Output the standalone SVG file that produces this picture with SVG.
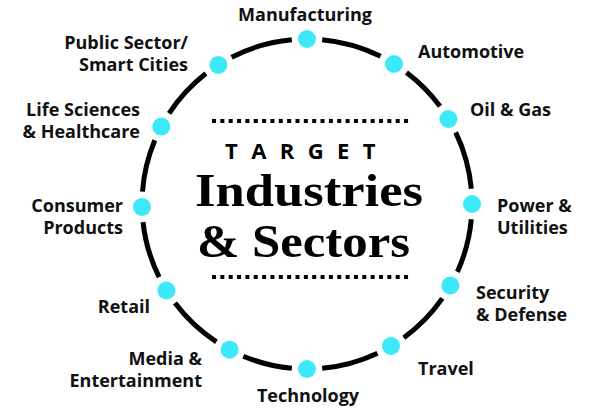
<svg xmlns="http://www.w3.org/2000/svg" width="595" height="408" viewBox="0 0 595 408">
<style>
.lbl{font-family:"Open Sans","Liberation Sans",sans-serif;font-weight:700;font-size:18px;fill:#111}
.r{text-anchor:end}
.m{text-anchor:middle}
.dot{fill:#3DE9F9}
.arc{fill:none;stroke:#000;stroke-width:5}
.dl{stroke:#000;stroke-width:4;stroke-dasharray:4 4.35}
.ser{font-family:"Liberation Serif","DejaVu Serif",serif;font-weight:700;font-size:46px;fill:#000}
</style>
<rect width="595" height="408" fill="#fff"/>
<g id="connectors">
<path class="arc" d="M322.2 39.7 A165 165 0 0 1 380.6 56.3"/>
<path class="arc" d="M406.5 72.4 A165 165 0 0 1 440.0 106.3"/>
<path class="arc" d="M455.7 132.4 A165 165 0 0 1 471.3 188.8"/>
<path class="arc" d="M471.3 219.2 A165 165 0 0 1 457.4 271.9"/>
<path class="arc" d="M442.3 298.4 A165 165 0 0 1 403.8 337.7"/>
<path class="arc" d="M377.5 353.2 A165 165 0 0 1 322.2 368.3"/>
<path class="arc" d="M291.8 368.3 A165 165 0 0 1 243.3 356.2"/>
<path class="arc" d="M216.4 341.9 A165 165 0 0 1 175.0 303.1"/>
<path class="arc" d="M159.1 277.1 A165 165 0 0 1 143.0 222.1"/>
<path class="arc" d="M142.5 191.6 A165 165 0 0 1 154.8 140.3"/>
<path class="arc" d="M169.1 113.4 A165 165 0 0 1 205.9 73.6"/>
<path class="arc" d="M231.6 57.2 A165 165 0 0 1 291.8 39.7"/>
</g>
<g id="title">
<line class="dl" x1="212" y1="121" x2="409" y2="121"/>
<text x="225" y="159" style="font-family:'Open Sans','Liberation Sans',sans-serif;font-weight:700;font-size:22px;letter-spacing:13.4px" fill="#000">TARGET</text>
<text class="ser" x="195" y="206" textLength="228" lengthAdjust="spacingAndGlyphs">Industries</text>
<text class="ser" x="197" y="257" textLength="213" lengthAdjust="spacingAndGlyphs">&amp; Sectors</text>
<line class="dl" x1="212" y1="277" x2="409" y2="277"/>
</g>
<g id="manufacturing"><circle class="dot" cx="307" cy="39" r="9"/><text class="lbl m" x="305" y="21">Manufacturing</text></g>
<g id="automotive"><circle class="dot" cx="394" cy="64" r="9"/><text class="lbl" x="418" y="58">Automotive</text></g>
<g id="oil-gas"><circle class="dot" cx="448.4" cy="119" r="9"/><text class="lbl" x="470" y="116">Oil &amp; Gas</text></g>
<g id="power-utilities"><circle class="dot" cx="472" cy="204" r="9"/><text class="lbl" x="497" y="211.5">Power &amp;</text><text class="lbl" x="497" y="233.5">Utilities</text></g>
<g id="security-defense"><circle class="dot" cx="450.4" cy="285.5" r="9"/><text class="lbl" x="476" y="299">Security</text><text class="lbl" x="476" y="321">&amp; Defense</text></g>
<g id="travel"><circle class="dot" cx="391" cy="346" r="9"/><text class="lbl" x="418" y="375">Travel</text></g>
<g id="technology"><circle class="dot" cx="307" cy="369" r="9"/><text class="lbl m" x="308" y="402">Technology</text></g>
<g id="media-entertainment"><circle class="dot" cx="229.6" cy="349.7" r="9"/><text class="lbl r" x="202" y="365">Media &amp;</text><text class="lbl r" x="202" y="387">Entertainment</text></g>
<g id="retail"><circle class="dot" cx="166.4" cy="290.5" r="9"/><text class="lbl r" x="150" y="313">Retail</text></g>
<g id="consumer-products"><circle class="dot" cx="142" cy="206.9" r="9"/><text class="lbl r" x="123" y="211.5">Consumer</text><text class="lbl r" x="123" y="233.5">Products</text></g>
<g id="life-sciences"><circle class="dot" cx="161.3" cy="126.6" r="9"/><text class="lbl r" x="140" y="116">Life Sciences</text><text class="lbl r" x="140" y="138">&amp; Healthcare</text></g>
<g id="public-sector"><circle class="dot" cx="218.4" cy="64.9" r="9"/><text class="lbl r" x="188" y="49">Public Sector/</text><text class="lbl r" x="188" y="71">Smart Cities</text></g>
</svg>
